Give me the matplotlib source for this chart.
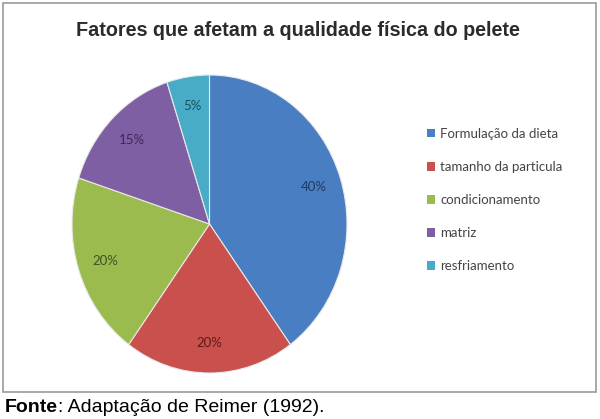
#!/usr/bin/env python3

"""
Pie chart: fatores que afetam a qualidade fisica do pelete
"""

import matplotlib
matplotlib.use("Agg")
import matplotlib.pyplot as plt
from matplotlib.patches import Rectangle, Patch

categories = [
    "Formulação da dieta",
    "tamanho da particula",
    "condicionamento",
    "matriz",
    "resfriamento",
]
shares = [40, 20, 20, 15, 5]
slice_colors = ["#4A7EC2", "#C9504C", "#9BBB4F", "#7F5FA3", "#49ACC6"]
label_colors = ["#1F3A66", "#5E1A18", "#3E5520", "#3A2857", "#1F4F5E"]

title = "Fatores que afetam a qualidade física do pelete"
source_bold = "Fonte"
source_rest = ": Adaptação de Reimer (1992)."

W, H = 600, 419
fig = plt.figure(figsize=(W / 100, H / 100), dpi=100)

# chart frame
fig.patches.append(Rectangle((3 / W, 1 - 392 / H), 593 / W, 389 / H,
                             transform=fig.transFigure, fill=False,
                             edgecolor="#9A9A9A", linewidth=1.2))

ax = fig.add_axes([72 / W, 1 - 373 / H, 275 / W, 298 / H])
wedges, texts, autotexts = ax.pie(
    shares, colors=slice_colors, startangle=90, counterclock=False,
    autopct="%1.0f%%", pctdistance=0.8,
    wedgeprops=dict(edgecolor="#E8E8E8", linewidth=0.8),
)
ax.set_aspect("auto")
ax.set_xlim(-1, 1)
ax.set_ylim(-1, 1)
for t, c in zip(autotexts, label_colors):
    t.set_color(c)
    t.set_fontsize(9.5)
    t.set_family("Lato")

fig.text(298 / W, 1 - 31 / H, title, ha="center", va="center",
         fontsize=14.2, fontweight="bold", color="#2B2B2B",
         family="Liberation Sans")

handles = [Patch(facecolor=c, edgecolor="none") for c in slice_colors]
leg = fig.legend(handles, categories, loc="upper left",
                 bbox_to_anchor=(415 / W, 1 - 116 / H), frameon=False,
                 handlelength=0.6, handleheight=0.6, handletextpad=0.4,
                 labelspacing=1.6, prop=dict(family="Lato", size=9.5))
for t in leg.get_texts():
    t.set_color("#444444")

txt = fig.text(5 / W, 1 - 407 / H, source_bold, ha="left", va="center",
               fontsize=14, fontweight="bold", family="Liberation Sans")
fig.canvas.draw()
bb = txt.get_window_extent()
fig.text(bb.x1 / W, 1 - 407 / H, source_rest, ha="left", va="center",
         fontsize=14, family="Liberation Sans")

fig.savefig("out.png", dpi=100)
